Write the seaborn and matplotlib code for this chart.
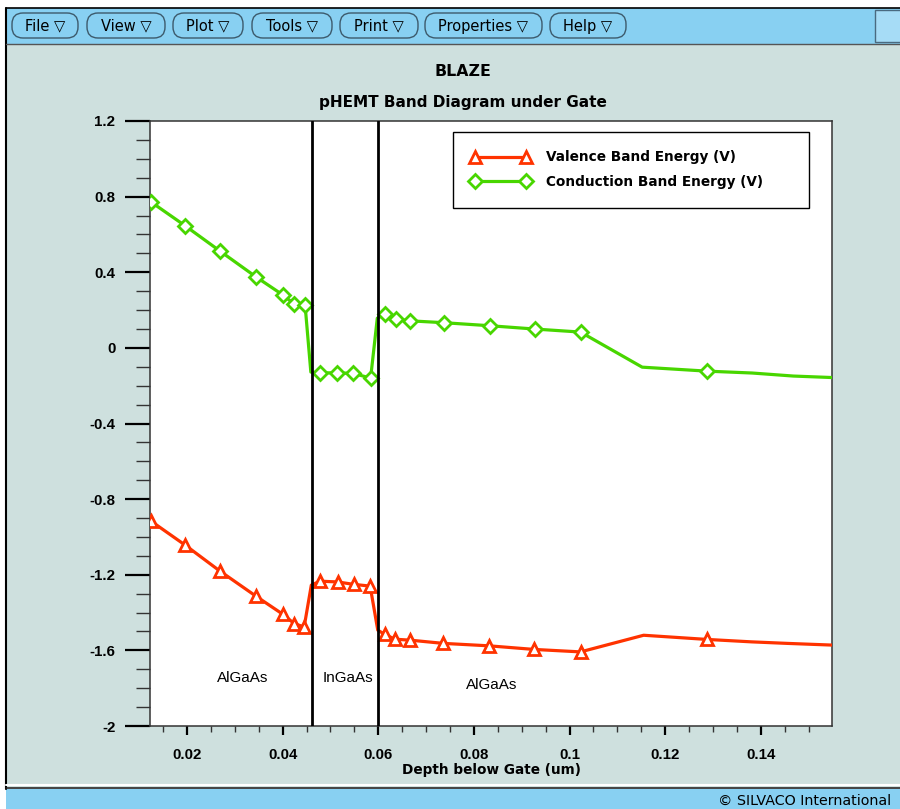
import matplotlib
matplotlib.use("Agg")
import matplotlib.pyplot as plt
import seaborn as sns
import pandas as pd
from matplotlib.patches import Rectangle, FancyBboxPatch
from matplotlib.lines import Line2D
from matplotlib.ticker import MultipleLocator, FixedLocator

# ---------------- data ----------------
depth_cond = [0.0124, 0.0196, 0.0269, 0.0344, 0.0401, 0.0424, 0.0447, 0.0459,
              0.0478, 0.0514, 0.0548, 0.0584, 0.0598, 0.0614, 0.0637, 0.0667,
              0.0738, 0.0834, 0.0928, 0.1023, 0.1152, 0.1287, 0.1382, 0.1468, 0.1550]
cond_energy = [0.773, 0.646, 0.512, 0.376, 0.279, 0.232, 0.225, -0.128,
               -0.132, -0.132, -0.135, -0.160, 0.157, 0.177, 0.151, 0.143,
               0.133, 0.117, 0.0995, 0.0836, -0.102, -0.123, -0.133, -0.149, -0.157]
depth_val = [0.0124, 0.0196, 0.0268, 0.0344, 0.0401, 0.0424, 0.0445, 0.0460,
             0.0478, 0.0515, 0.0549, 0.0583, 0.0599, 0.0614, 0.0635, 0.0667,
             0.0736, 0.0832, 0.0926, 0.1023, 0.1155, 0.1287, 0.1381, 0.1455, 0.1549]
val_energy = [-0.915, -1.043, -1.179, -1.313, -1.410, -1.458, -1.476, -1.255,
              -1.234, -1.238, -1.251, -1.260, -1.493, -1.516, -1.541, -1.546,
              -1.563, -1.576, -1.595, -1.608, -1.520, -1.542, -1.555, -1.563, -1.572]
marked_points = [0, 1, 2, 3, 4, 5, 6, 8, 9, 10, 11, 13, 14, 15, 16, 17, 18, 19, 21]

layer_bounds = [0.0461, 0.0600]
region_names = ["AlGaAs", "InGaAs", "AlGaAs"]
region_x = [0.0317, 0.0537, 0.0838]
region_y = [-1.747, -1.747, -1.784]

x_ticks = [0.02, 0.04, 0.06, 0.08, 0.10, 0.12, 0.14]
x_tick_labels = ["0.02", "0.04", "0.06", "0.08", "0.1", "0.12", "0.14"]
y_ticks = [-2.0, -1.6, -1.2, -0.8, -0.4, 0.0, 0.4, 0.8, 1.2]
y_tick_labels = ["-2", "-1.6", "-1.2", "-0.8", "-0.4", "0", "0.4", "0.8", "1.2"]

series_names = ["Valence Band Energy (V)", "Conduction Band Energy (V)"]
menu_items = ["File", "View", "Plot", "Tools", "Print", "Properties", "Help"]

# ---------------- style ----------------
sns.set_style("white")
plt.rcParams["font.family"] = ["Liberation Sans", "DejaVu Sans"]
plt.rcParams["text.color"] = "black"
plt.rcParams["axes.labelcolor"] = "black"
plt.rcParams["xtick.color"] = "black"
plt.rcParams["ytick.color"] = "black"

RED = "#ff3300"
GREEN = "#48d600"
PANEL = "#cee0de"
BAR = "#88d0f2"

W, H = 900, 809
fig = plt.figure(figsize=(9.0, 8.09), dpi=100)
fig.patch.set_facecolor("white")

# background / window chrome in pixel coordinates
bg = fig.add_axes([0, 0, 1, 1], zorder=-5)
bg.set_xlim(0, W)
bg.set_ylim(H, 0)
bg.axis("off")
bg.add_patch(Rectangle((6, 8), W, 36, facecolor=BAR, edgecolor="none"))
bg.add_patch(Rectangle((6, 45), W, 742, facecolor=PANEL, edgecolor="none"))
bg.add_patch(Rectangle((6, 789), W, 25, facecolor=BAR, edgecolor="none"))
bg.plot([6, 6], [8, 789], color="black", lw=1.5)
bg.plot([6, W], [8, 8], color="black", lw=1.2)
bg.plot([6, W], [44, 44], color="#555555", lw=1.0)
bg.plot([6, W], [788, 788], color="#222222", lw=1.2)
bg.plot([6, W], [785, 785], color="white", lw=1.5)
bg.add_patch(Rectangle((875, 10), 30, 32, facecolor="#a6dcf6", edgecolor="#4a6a80", lw=1.0))

menu_x = [(12, 78), (87, 165), (173, 243), (252, 332), (340, 418), (425, 542), (550, 626)]
for name, (x0, x1) in zip(menu_items, menu_x):
    bg.add_patch(FancyBboxPatch((x0, 13), x1 - x0, 25,
                                boxstyle="round,pad=0,rounding_size=11",
                                facecolor=BAR, edgecolor="#3c5a6c", lw=1.0))
    bg.text((x0 + x1) / 2, 26, name + " \u25bd", ha="center", va="center",
            fontsize=10.5, family=["DejaVu Sans"], color="black")
bg.text(718, 801, "\u00a9 SILVACO International", ha="left", va="center",
        fontsize=10.3, family=["DejaVu Sans"], color="black")

# titles
fig.text(463 / W, 1 - 71 / H, "BLAZE", ha="center", va="center", color="black",
         fontsize=11.3, fontweight="bold", family=["DejaVu Sans"])
fig.text(463 / W, 1 - 102 / H, "pHEMT Band Diagram under Gate", ha="center",
         va="center", fontsize=11.0, fontweight="bold", family=["DejaVu Sans"],
         color="black")

# main axes
ax = fig.add_axes([150 / W, 1 - 726 / H, 682 / W, 605 / H])
ax.set_facecolor("white")

df_val = pd.DataFrame({"depth": depth_val, "energy": val_energy})
df_cond = pd.DataFrame({"depth": depth_cond, "energy": cond_energy})

sns.lineplot(data=df_val, x="depth", y="energy", ax=ax, color=RED, lw=2.3,
             sort=False, estimator=None, marker="^", markersize=9,
             markerfacecolor="white", markeredgecolor=RED, markeredgewidth=2,
             markevery=marked_points, zorder=3)
sns.lineplot(data=df_cond, x="depth", y="energy", ax=ax, color=GREEN, lw=2.3,
             sort=False, estimator=None, marker="D", markersize=7.5,
             markerfacecolor="white", markeredgecolor=GREEN, markeredgewidth=2,
             markevery=marked_points, zorder=3)

for xb in layer_bounds:
    ax.axvline(xb, color="black", lw=2.0, zorder=4)

for name, xr, yr in zip(region_names, region_x, region_y):
    ax.text(xr, yr, name, ha="center", va="center", fontsize=11, color="black")

ax.set_xlim(0.01226, 0.1549)
ax.set_ylim(-2.0, 1.2)
ax.xaxis.set_major_locator(FixedLocator(x_ticks))
ax.set_xticklabels(x_tick_labels)
ax.yaxis.set_major_locator(FixedLocator(y_ticks))
ax.set_yticklabels(y_tick_labels)
ax.xaxis.set_minor_locator(MultipleLocator(0.005))
ax.yaxis.set_minor_locator(MultipleLocator(0.1))

ax.tick_params(axis="x", which="major", direction="out", length=6.5, width=1.6,
               color="black", pad=9, labelsize=10.8, labelcolor="black")
ax.tick_params(axis="x", which="minor", direction="out", length=4.3, width=1.0,
               color="#333333")
ax.tick_params(axis="y", which="major", direction="out", length=18, width=1.6,
               color="black", pad=7, labelsize=10.8, labelcolor="black")
ax.tick_params(axis="y", which="minor", direction="out", length=10, width=1.0,
               color="#333333")
ax.tick_params(bottom=True, left=True, which="both")
for lbl in ax.get_xticklabels() + ax.get_yticklabels():
    lbl.set_fontweight("bold")

for sp in ax.spines.values():
    sp.set_visible(True)
    sp.set_color("#333333")
    sp.set_linewidth(1.1)

ax.set_xlabel("Depth below Gate (um)", fontsize=9.8, fontweight="bold",
              labelpad=1, family=["DejaVu Sans"], color="black")
ax.set_ylabel("")

handles = [
    Line2D([], [], color=RED, lw=2.3, marker="^", markersize=9,
           markerfacecolor="white", markeredgecolor=RED, markeredgewidth=2),
    Line2D([], [], color=GREEN, lw=2.3, marker="D", markersize=7.5,
           markerfacecolor="white", markeredgecolor=GREEN, markeredgewidth=2),
]
leg_x0 = (453 - 150) / 682
leg_w = (809 - 453) / 682
leg = ax.legend(handles, series_names, loc="upper left",
                bbox_to_anchor=(leg_x0, 0.5, leg_w, 0.482), mode="expand",
                borderaxespad=0, frameon=True,
                fancybox=False, framealpha=1, edgecolor="black", numpoints=2,
                handlelength=4.3, handletextpad=1.15, borderpad=1.35,
                labelspacing=0.8,
                prop={"weight": "bold", "size": 9.8, "family": ["DejaVu Sans"]})
leg.get_frame().set_linewidth(1.0)
for t in leg.get_texts():
    t.set_color("black")

fig.savefig("out.png", dpi=100)
